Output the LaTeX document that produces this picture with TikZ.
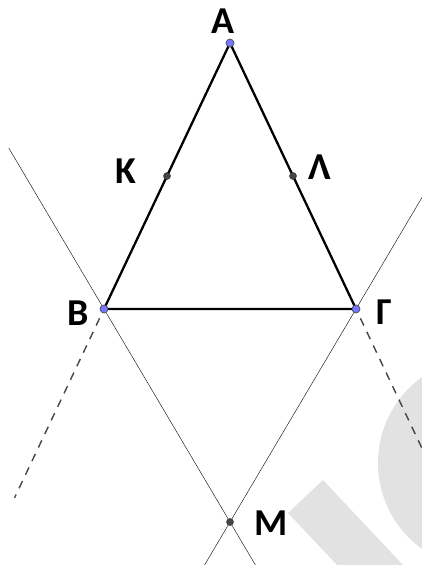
\documentclass[tikz,border=0pt]{standalone}
\usepackage{fontspec}
\setmainfont{Carlito}
\usetikzlibrary{calc}
\definecolor{wm}{RGB}{226,226,226}
\definecolor{thin}{RGB}{150,150,150}
\definecolor{dsh}{RGB}{70,70,70}
\definecolor{ptblue}{RGB}{118,118,255}
\definecolor{ptgray}{RGB}{70,70,70}
\tikzset{
  side/.style={line width=2.3pt, black},
  thinline/.style={line width=1pt, thin},
  dashline/.style={line width=1.4pt, dsh, dash pattern=on 8pt off 7pt},
  bluept/.style={circle, fill=ptblue, draw=black!70, line width=0.7pt, minimum size=8pt, inner sep=0pt},
  graypt/.style={circle, fill=ptgray, draw=black!80, line width=0.5pt, minimum size=7pt, inner sep=0pt},
  lbl/.style={font=\fontsize{38}{38}\selectfont\bfseries, inner sep=0pt, anchor=center}
}
\begin{document}
\begin{tikzpicture}[x=1pt,y=-1pt]
\useasboundingbox (0,0) rectangle (422,565);
% watermark
\begin{scope}
\clip (0,0) rectangle (422,565);
\fill[wm] (484,463) circle (106);
\fill[wm] (323,480) -- (288,513) -- (337,565) -- (403,565) -- cycle;
\end{scope}
% points
\coordinate (A) at (230,43);
\coordinate (B) at (104,309);
\coordinate (G) at (356,309);
\coordinate (K) at ($(A)!0.5!(B)$);
\coordinate (L) at ($(A)!0.5!(G)$);
\coordinate (M) at (230,522);
% helper ends
\coordinate (BMu) at ($(M)!1.756!(B)$);
\coordinate (BMd) at ($(M)!-0.202!(B)$);
\coordinate (GMu) at ($(M)!1.524!(G)$);
\coordinate (GMd) at ($(M)!-0.202!(G)$);
\coordinate (Bd1) at ($(A)!1.035!(B)$);
\coordinate (Bd2) at ($(A)!1.71!(B)$);
\coordinate (Gd1) at ($(A)!1.035!(G)$);
\coordinate (Gd2) at ($(A)!1.545!(G)$);
% thin lines
\draw[thinline] (BMu) -- (BMd);
\draw[thinline] (GMu) -- (GMd);
% dashed extensions
\draw[dashline] (Bd1) -- (Bd2);
\draw[dashline] (Gd1) -- (Gd2);
% triangle
\draw[side, line join=round] (A) -- (B) -- (G) -- cycle;
% point marks
\node[bluept] (pA) at (A) {};
\node[bluept] (pB) at (B) {};
\node[bluept] (pG) at (G) {};
\node[graypt] (pK) at (K) {};
\node[graypt] (pL) at (L) {};
\node[graypt] (pM) at (M) {};
% labels
\node[lbl] (tA) at (223,21) {Α};
\node[lbl] (tK) at (126,171) {Κ};
\node[lbl] (tL) at (320,167) {Λ};
\node[lbl] (tB) at (78,313) {Β};
\node[lbl] (tG) at (384,312) {Γ};
\node[lbl] (tM) at (271,523) {Μ};
\end{tikzpicture}
\end{document}
